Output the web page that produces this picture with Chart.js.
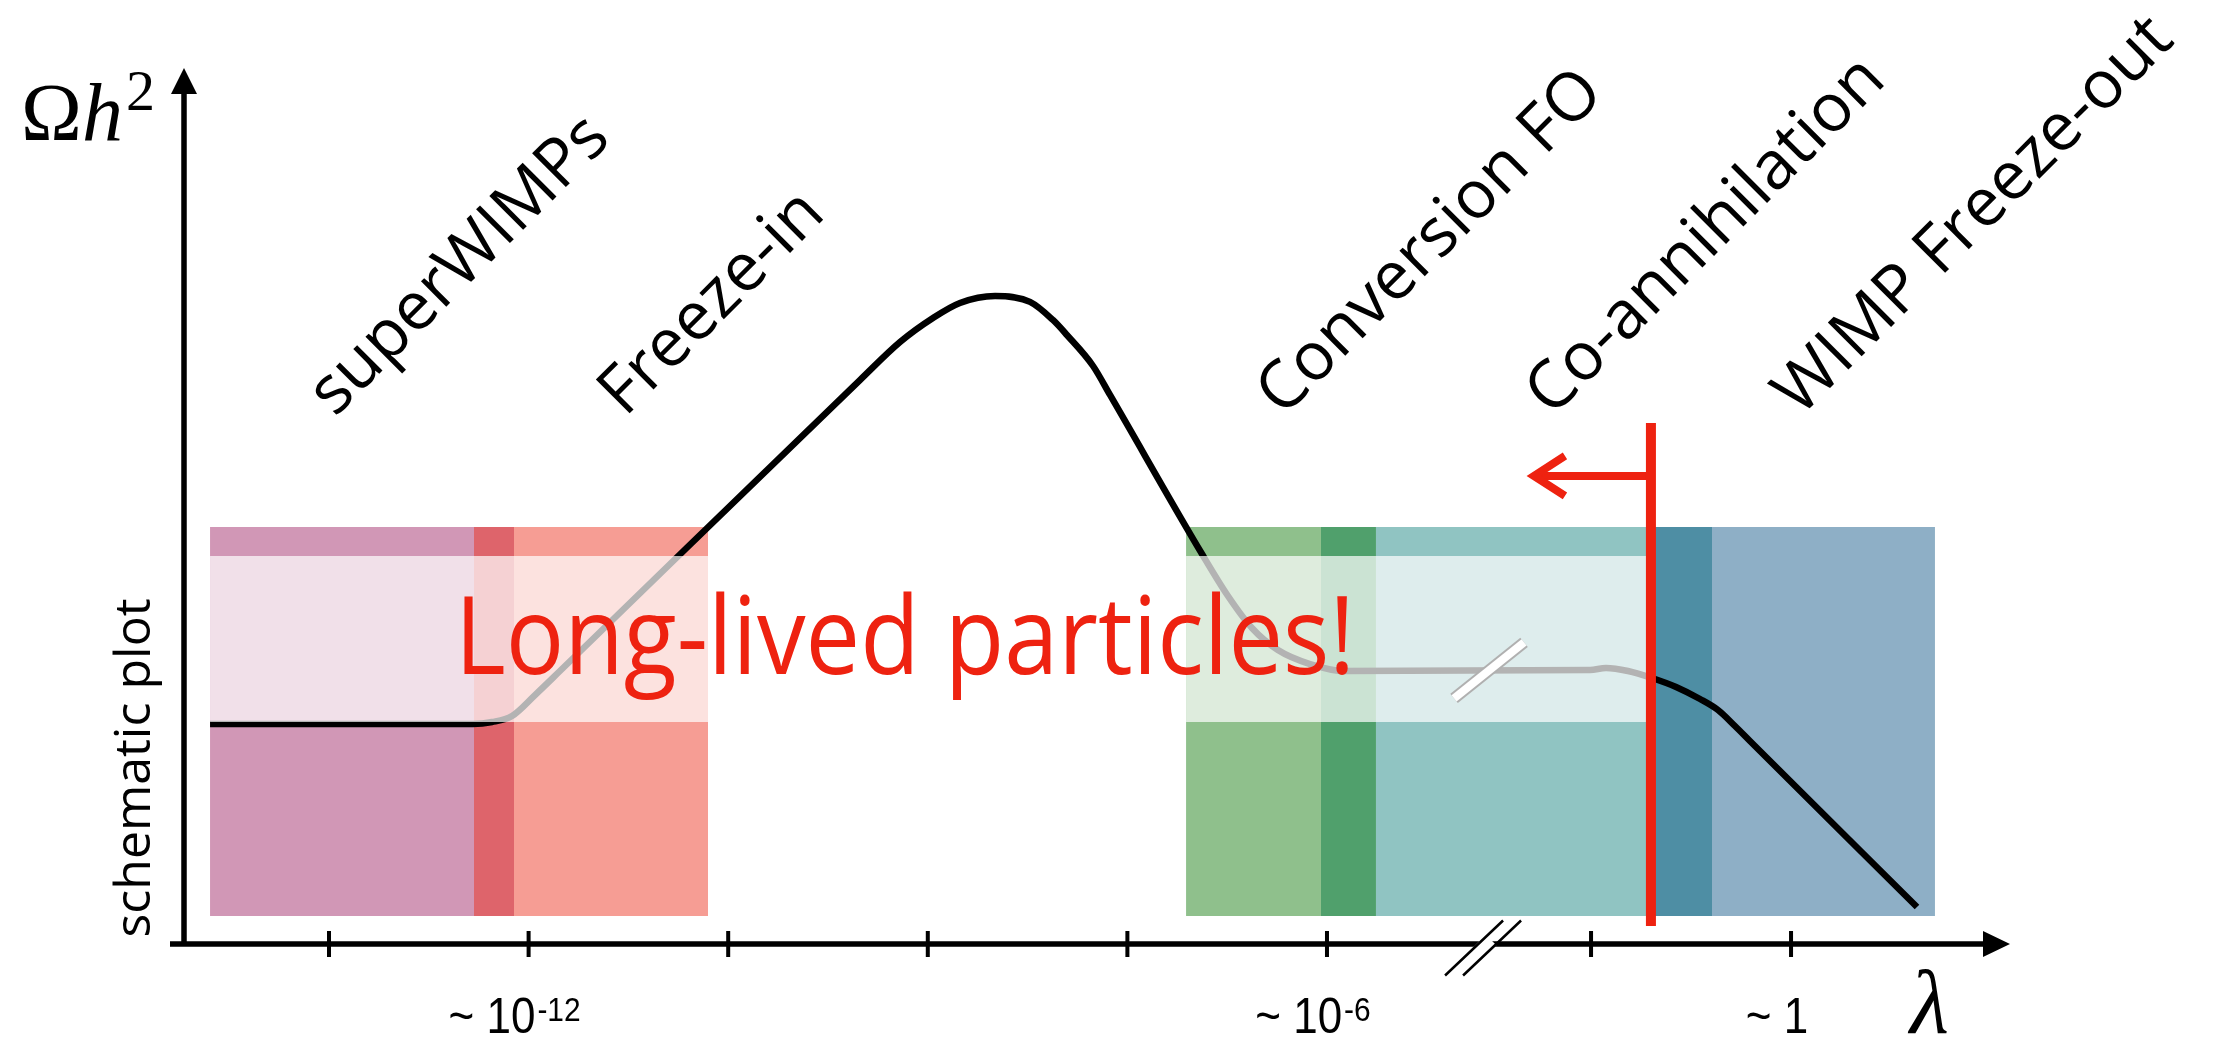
<!DOCTYPE html>
<html>
<head>
<meta charset="utf-8">
<script src="https://cdn.jsdelivr.net/npm/chart.js@4.4.1/dist/chart.umd.min.js"></script>
<style>
  html, body { margin: 0; padding: 0; background: #fff; }
  canvas { display: block; }
</style>
</head>
<body>
<canvas id="relic" width="2225" height="1041"></canvas>
<script>
// production regimes along the coupling axis (x in tick units)
const regimes = ['superWIMPs', 'Freeze-in', 'Conversion FO', 'Co-annihilation', 'WIMP Freeze-out'];
const regimeStart = [0.404, 1.726, 5.294, 5.970, 7.613];
const regimeEnd = [1.927, 2.899, 6.245, 7.929, 9.046];
const regimeColors = ['#d197b6', '#f69d94', '#8fc08c', '#90c4c2', '#8eafc6'];
const overlapColors = ['#de646b', '#000', '#50a06c', '#4e8ea4'];
const boxTop = 4.777;
const boxBottom = 0.321;

// window where the mediator is long lived
const llpStart = [0.404, 5.294];
const llpEnd = [2.899, 7.623];
const llpTop = 4.444;
const llpBottom = 2.543;

// relic abundance vs coupling
const curveX = [0.404, 1.721, 1.817, 1.917, 2.032, 2.157, 3.660, 3.861, 4.026, 4.161, 4.337,
  4.512, 4.627, 4.697, 4.828, 4.913, 5.374, 5.504, 5.624, 5.754, 5.915, 6.090, 7.318,
  7.398, 7.508, 7.628, 7.749, 7.869, 7.959, 8.044, 8.119, 8.956];
const curveY = [2.520, 2.520, 2.543, 2.612, 2.852, 3.127, 6.460, 6.896, 7.171, 7.343, 7.423,
  7.355, 7.148, 6.976, 6.621, 6.289, 4.467, 3.986, 3.620, 3.368, 3.207, 3.127, 3.139,
  3.162, 3.127, 3.047, 2.944, 2.806, 2.680, 2.497, 2.325, 0.424];

// x axis ticks and labels
const tickPos = [1, 2, 3, 4, 5, 6, 7.323, 8.325];
const labelAt = [2, 6, 8.325];
const labelBase = ['~ 10', '~ 10', '~ 1'];
const labelExp = ['-12', '-6', ''];
const breakX = 6.782;

// co-annihilation cutoff and its arrow
const cutoffX = 7.623;
const cutoffTop = 5.968;
const cutoffBottom = 0.206;
const arrowY = 5.361;
const arrowTip = 7.032;

const RED = '#ee2210';

function rect(x0, x1, top, bottom, color, order) {
  return {
    data: [{ x: x0, y: top }, { x: x1, y: top }],
    fill: { value: bottom },
    backgroundColor: color,
    borderWidth: 0,
    pointRadius: 0,
    order: order
  };
}

const datasets = [];
regimes.forEach((name, i) => {
  datasets.push(Object.assign(rect(regimeStart[i], regimeEnd[i], boxTop, boxBottom, regimeColors[i], 10), { label: name }));
});
for (let i = 0; i < regimes.length - 1; i++) {
  const s = regimeStart[i + 1], e = regimeEnd[i];
  if (s < e) datasets.push(rect(s, e, boxTop, boxBottom, overlapColors[i], 9));
}
datasets.push({
  label: 'Omega h2',
  data: curveX.map((v, i) => ({ x: v, y: curveY[i] })),
  borderColor: '#000',
  borderWidth: 6.5,
  cubicInterpolationMode: 'monotone',
  borderJoinStyle: 'round',
  pointRadius: 0,
  fill: false,
  order: 5
});
llpStart.forEach((s, i) => {
  datasets.push(rect(s, llpEnd[i], llpTop, llpBottom, 'rgba(255,255,255,0.7)', 4));
});
datasets.push({
  data: [{ x: cutoffX, y: cutoffTop }, { x: cutoffX, y: cutoffBottom }],
  borderColor: RED, borderWidth: 10, borderCapStyle: 'butt', pointRadius: 0, fill: false, order: 3
});
datasets.push({
  data: [{ x: cutoffX, y: arrowY }, { x: arrowTip, y: arrowY }],
  borderColor: RED, borderWidth: 8, borderCapStyle: 'butt', pointRadius: 0, fill: false, order: 3
});

function curveAt(v) {
  for (let i = 1; i < curveX.length; i++) {
    if (v <= curveX[i]) {
      const t = (v - curveX[i - 1]) / (curveX[i] - curveX[i - 1]);
      return curveY[i - 1] + t * (curveY[i] - curveY[i - 1]);
    }
  }
  return curveY[curveY.length - 1];
}

function squeezed(ctx, text, x, y, font, width, align) {
  ctx.font = font;
  const w = ctx.measureText(text).width;
  ctx.save();
  ctx.translate(x, y);
  ctx.scale(width ? width / w : 1, 1);
  ctx.textAlign = align || 'left';
  ctx.fillText(text, 0, 0);
  ctx.restore();
}

const sketchLayer = {
  id: 'sketchLayer',
  afterDatasetsDraw(chart) {
    const { ctx, chartArea: a, scales: { x, y } } = chart;
    ctx.save();
    ctx.fillStyle = '#000';
    ctx.strokeStyle = '#000';

    // axes with arrow heads
    ctx.lineWidth = 5.5;
    ctx.beginPath();
    ctx.moveTo(a.left, a.bottom + 2.7);
    ctx.lineTo(a.left, a.top + 20);
    ctx.moveTo(a.left - 14, a.bottom);
    ctx.lineTo(a.right - 22, a.bottom);
    ctx.stroke();
    ctx.beginPath();
    ctx.moveTo(a.left, a.top - 3);
    ctx.lineTo(a.left - 13, a.top + 23);
    ctx.lineTo(a.left + 13, a.top + 23);
    ctx.closePath();
    ctx.moveTo(a.right, a.bottom);
    ctx.lineTo(a.right - 27, a.bottom - 13);
    ctx.lineTo(a.right - 27, a.bottom + 13);
    ctx.closePath();
    ctx.fill();

    ctx.lineWidth = 4;
    ctx.beginPath();
    tickPos.forEach(v => {
      const px = x.getPixelForValue(v);
      ctx.moveTo(px, a.bottom - 13);
      ctx.lineTo(px, a.bottom + 13);
    });
    ctx.stroke();

    // axis break
    const bx = x.getPixelForValue(breakX), by = a.bottom + 4;
    const dx = 29, dy = 27.5;
    ctx.strokeStyle = '#fff';
    ctx.lineWidth = 15;
    ctx.beginPath();
    ctx.moveTo(bx - 8, by + 8);
    ctx.lineTo(bx + 8, by - 8);
    ctx.stroke();
    ctx.strokeStyle = '#000';
    ctx.lineWidth = 2.5;
    ctx.beginPath();
    [-9, 9].forEach(o => {
      ctx.moveTo(bx + o - dx, by + dy);
      ctx.lineTo(bx + o + dx, by - dy);
    });
    ctx.stroke();

    // break on the curve
    const cx = bx + 6, cy = y.getPixelForValue(curveAt(breakX));
    const ux = 35, uy = 28;
    ctx.lineCap = 'butt';
    ctx.strokeStyle = '#b0b0b0';
    ctx.lineWidth = 12;
    ctx.beginPath();
    ctx.moveTo(cx - ux, cy + uy);
    ctx.lineTo(cx + ux, cy - uy);
    ctx.stroke();
    ctx.strokeStyle = '#fff';
    ctx.lineWidth = 8;
    ctx.beginPath();
    ctx.moveTo(cx - ux, cy + uy);
    ctx.lineTo(cx + ux, cy - uy);
    ctx.stroke();

    // arrow head on the cutoff
    const tx = x.getPixelForValue(arrowTip), ty = y.getPixelForValue(arrowY);
    ctx.strokeStyle = RED;
    ctx.lineWidth = 8;
    ctx.lineJoin = 'miter';
    ctx.beginPath();
    ctx.moveTo(tx + 32, ty - 20);
    ctx.lineTo(tx + 1, ty);
    ctx.lineTo(tx + 32, ty + 20);
    ctx.stroke();

    // tick labels, narrow sans like the slide font
    ctx.fillStyle = '#000';
    ctx.textBaseline = 'alphabetic';
    const squeeze = 0.88;
    labelAt.forEach((v, i) => {
      ctx.font = '50px "Liberation Sans"';
      const wb = ctx.measureText(labelBase[i]).width * squeeze;
      ctx.font = '34px "Liberation Sans"';
      const we = labelExp[i] ? ctx.measureText(labelExp[i]).width * squeeze + 2 : 0;
      const left = x.getPixelForValue(v) - 14 - (wb + we) / 2;
      ctx.textAlign = 'left';
      squeezed(ctx, labelBase[i], left, 1033, '50px "Liberation Sans"', wb);
      if (labelExp[i]) {
        squeezed(ctx, labelExp[i], left + wb + 2, 1021, '34px "Liberation Sans"', we - 2);
      }
    });

    // axis titles
    ctx.font = '82px "Liberation Serif"';
    ctx.fillText('\u03A9', 21, 140);
    ctx.font = 'italic 82px "Liberation Serif"';
    ctx.fillText('h', 82, 140);
    ctx.font = '58px "Liberation Serif"';
    ctx.fillText('2', 126, 110);
    ctx.font = 'italic 90px "Liberation Serif"';
    ctx.fillText('\u03BB', 1910, 1033);

    ctx.save();
    ctx.translate(150, 768);
    ctx.rotate(-Math.PI / 2);
    ctx.textAlign = 'center';
    ctx.font = '50px "Open Sans"';
    ctx.fillText('schematic plot', 0, 0);
    ctx.restore();

    // regime names, slanted
    const anchors = [335, 625, 1283, 1552, 1800];
    ctx.font = '67px "Open Sans"';
    regimes.forEach((name, i) => {
      ctx.save();
      ctx.translate(anchors[i], 418);
      ctx.rotate(-Math.PI / 4);
      ctx.textAlign = 'left';
      ctx.fillText(name, 0, 0);
      ctx.restore();
    });

    ctx.fillStyle = RED;
    squeezed(ctx, 'Long-lived particles!', 905, 674, '108px "Open Sans"', 900, 'center');
    ctx.restore();
  }
};

new Chart(document.getElementById('relic'), {
  type: 'line',
  data: { datasets },
  options: {
    responsive: false,
    animation: false,
    devicePixelRatio: 1,
    layout: { padding: { left: 184, right: 215, top: 71, bottom: 97 } },
    scales: {
      x: { type: 'linear', min: 0.2735, max: 9.422, display: false },
      y: { min: 0, max: 10, display: false }
    },
    plugins: { legend: { display: false }, tooltip: { enabled: false } }
  },
  plugins: [sketchLayer]
});
</script>
</body>
</html>
